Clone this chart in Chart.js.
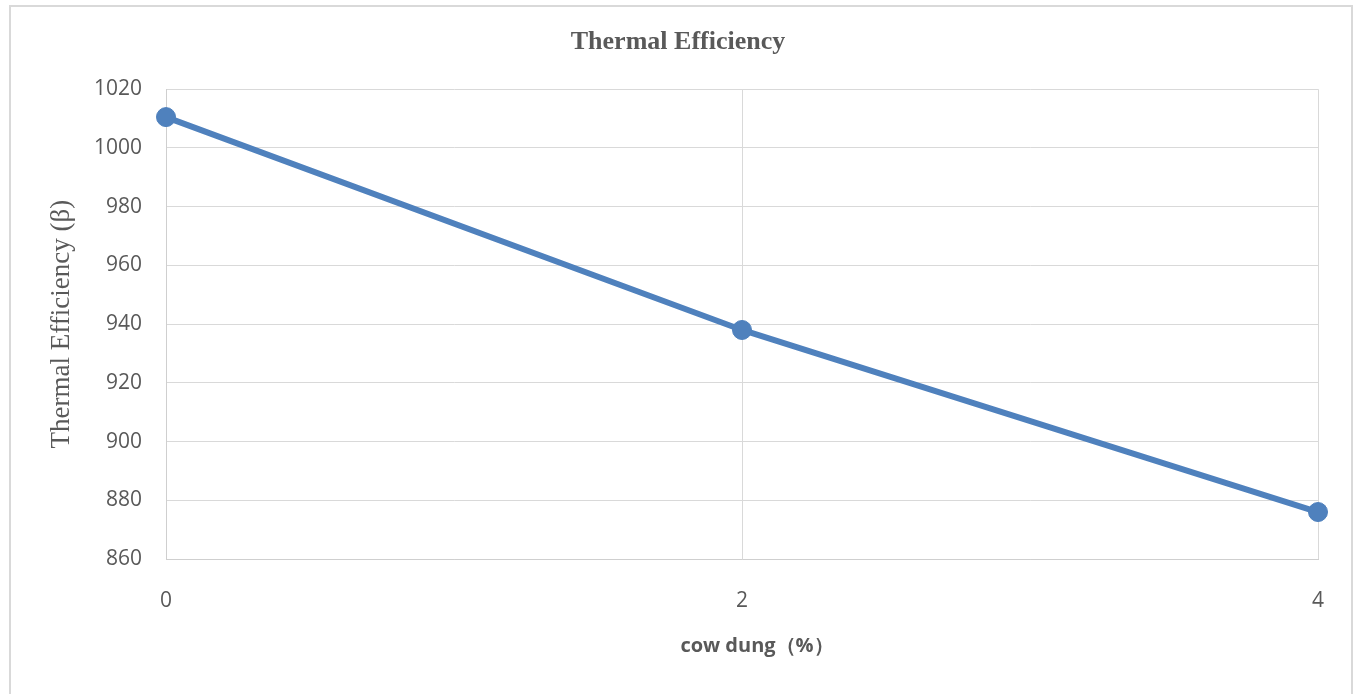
<!DOCTYPE html>
<html>
<head>
<meta charset="utf-8">
<script src="https://cdn.jsdelivr.net/npm/chart.js@4"></script>
<style>
  html, body { margin: 0; padding: 0; background: #fff; overflow: hidden; }
  #frame {
    position: absolute; left: 9px; top: 5px; width: 1344px; height: 720px;
    border: 2px solid #d9d9d9; box-sizing: border-box;
  }
  #wrap { position: absolute; left: 0; top: 0; width: 1356px; height: 694px; }
</style>
</head>
<body>
<div id="frame"></div>
<div id="wrap"><canvas id="chart"></canvas></div>
<script>
// cow dung share (%) and the measured thermal efficiency
const categories = ["0", "2", "4"];
const efficiency = [1010.5, 938, 876];
const yTicks = { min: 860, max: 1020, step: 20 };

const textGray = "#595959";
const gridGray = "#d9d9d9";
const blue = "#4F81BD";

new Chart(document.getElementById("chart").getContext("2d"), {
  type: "line",
  data: {
    labels: categories,
    datasets: [
      {
        label: "Thermal Efficiency",
        data: efficiency,
        borderColor: blue,
        backgroundColor: blue,
        borderWidth: 6,
        pointRadius: 9.5,
        pointBorderWidth: 1,
        pointBackgroundColor: blue,
        pointBorderColor: blue,
        tension: 0,
      },
    ],
  },
  options: {
    responsive: true,
    maintainAspectRatio: false,
    animation: false,
    layout: { padding: 0 },
    plugins: {
      legend: { display: false },
      tooltip: { enabled: false },
      title: {
        display: true,
        text: "Thermal Efficiency",
        color: textGray,
        font: { family: "'Liberation Serif', 'Times New Roman', serif", size: 26, weight: "bold" },
        padding: { top: 27, bottom: 31 },
      },
    },
    scales: {
      x: {
        type: "category",
        offset: false,
        grid: { color: gridGray, lineWidth: 1, drawTicks: false },
        border: { color: "#cfcfcf", width: 1 },
        ticks: {
          color: textGray,
          font: { family: "'Open Sans', sans-serif", size: 21 },
          padding: 29,
        },
        title: {
          display: true,
          text: "\u2003\u2002cow dung（%）",
          color: textGray,
          font: { family: "'Open Sans', sans-serif", size: 20, weight: "bold" },
          padding: { top: 0, bottom: 36 },
        },
        afterFit: (scale) => { scale.height = 135; },
      },
      y: {
        min: yTicks.min,
        max: yTicks.max,
        grid: { color: gridGray, lineWidth: 1, drawTicks: false },
        border: { color: "#cfcfcf", width: 1 },
        ticks: {
          stepSize: yTicks.step,
          color: textGray,
          font: { family: "'Open Sans', sans-serif", size: 21 },
          padding: 24,
          callback: (v) => String(v),
        },
        title: {
          display: true,
          text: "Thermal Efficiency (β)",
          color: textGray,
          font: { family: "'Liberation Serif', 'Times New Roman', serif", size: 27 },
          padding: { top: 46, bottom: 0 },
        },
        afterFit: (scale) => { scale.width = 166; },
      },
      // empty right-hand box that keeps the gap beside the plot
      spacer: {
        type: "linear",
        position: "right",
        min: 0,
        max: 1,
        grid: { display: false },
        border: { display: false },
        ticks: { display: false },
        afterFit: (scale) => { scale.width = 38; },
      },
    },
  },
});
</script>
</body>
</html>
